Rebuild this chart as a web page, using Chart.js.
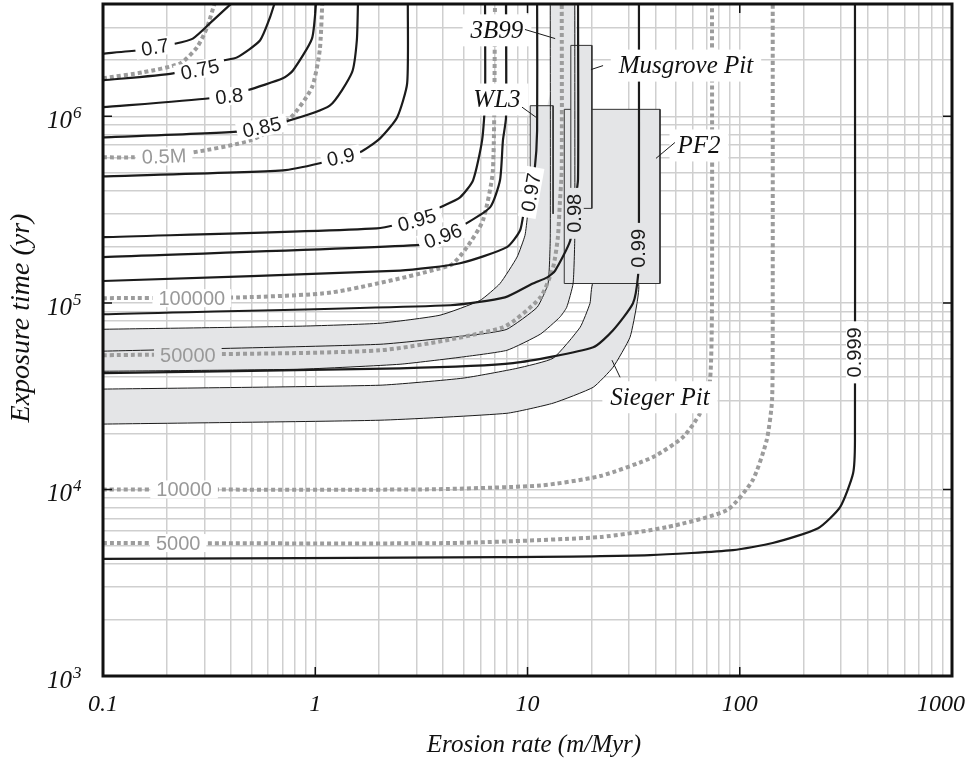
<!DOCTYPE html>
<html>
<head>
<meta charset="utf-8">
<script src="https://cdn.jsdelivr.net/npm/chart.js@4.4.1/dist/chart.umd.min.js"></script>
<style>
  html, body { margin: 0; padding: 0; background: #fff; }
  canvas { display: block; }
</style>
</head>
<body>
<canvas id="chart" width="969" height="770"></canvas>
<script>
// ---- data (erosion rate in m/Myr, exposure time in yr) ----

// black contours
const rate_c070 = [0.1, 0.146, 0.218, 0.265, 0.33, 0.41];
const age_c070 = [2.17e6, 2.26e6, 2.45e6, 2.61e6, 3.27e6, 4.1e6];
const rate_c075 = [0.1, 0.214, 0.367, 0.428, 0.549, 0.612, 0.646];
const age_c075 = [1.56e6, 1.70e6, 1.99e6, 2.07e6, 2.55e6, 3.39e6, 4.1e6];
const rate_c080 = [0.1, 0.319, 0.477, 0.704, 0.785, 0.965, 1.01];
const age_c080 = [1.12e6, 1.25e6, 1.38e6, 1.60e6, 1.76e6, 2.61e6, 4.1e6];
const rate_c085 = [0.1, 0.441, 0.704, 1.17, 1.49, 1.57, 1.59];
const age_c085 = [7.71e5, 8.30e5, 9.28e5, 1.14e6, 1.72e6, 2.55e6, 4.1e6];
const rate_c090 = [0.1, 0.704, 1.05, 1.62, 2.02, 2.43, 2.71, 2.73];
const age_c090 = [4.76e5, 5.13e5, 5.60e5, 6.41e5, 7.62e5, 9.86e5, 1.50e6, 4.1e6];
const rate_c095 = [0.1, 1.95, 3.05, 3.87, 4.81, 5.54, 6.11, 6.31, 6.31];
const age_c095 = [2.25e5, 2.51e5, 2.81e5, 3.25e5, 3.68e5, 4.54e5, 7.43e5, 1.22e6, 4.1e6];
const rate_c096 = [0.1, 3.01, 4.08, 4.81, 6.66, 7.42, 7.66, 7.92, 7.92];
const age_c096 = [1.76e5, 2.04e5, 2.22e5, 2.54e5, 3.25e5, 4.54e5, 7.43e5, 9.86e5, 4.1e6];
const rate_c097 = [0.1, 2.51, 4.81, 8.0, 9.23, 9.73, 10.3, 10.8, 11.1, 11.1];
const age_c097 = [1.31e5, 1.49e5, 1.63e5, 1.99e5, 2.45e5, 3.34e5, 4.01e5, 5.13e5, 8.39e5, 4.1e6];
const rate_c098 = [0.1, 4.32, 7.83, 10.6, 12.4, 13.5, 15.9, 16.7, 17.3, 17.3];
const age_c098 = [8.69e4, 9.71e4, 1.07e5, 1.27e5, 1.37e5, 1.49e5, 2.16e5, 3.39e5, 4.6e5, 4.1e6];
const rate_c099 = [0.1, 2.51, 8.55, 20.4, 25.3, 31.4, 33.2, 33.5, 33.5];
const age_c099 = [4.20e4, 4.46e4, 4.75e4, 5.78e4, 7.13e4, 9.95e4, 1.41e5, 2.16e5, 4.1e6];
const rate_c0999 = [0.1, 7.42, 37.8, 92.9, 143, 234, 297, 342, 349, 349];
const age_c0999 = [4.24e3, 4.34e3, 4.45e3, 4.73e3, 5.16e3, 6.20e3, 8.04e3, 1.22e4, 1.84e4, 4.1e6];

// grey dotted contours (apparent ages)
const rate_t1M = [0.1, 0.154, 0.231, 0.277, 0.309, 0.337];
const age_t1M = [1.60e6, 1.72e6, 1.92e6, 2.34e6, 2.99e6, 4.1e6];
const rate_t500k = [0.1, 0.138, 0.265, 0.493, 0.760, 0.965, 1.05, 1.08];
const age_t500k = [6.03e5, 6.03e5, 6.41e5, 7.43e5, 9.75e5, 1.43e6, 2.26e6, 4.1e6];
const rate_t100k = [0.1, 0.44, 1.21, 4.32, 5.19, 6.17, 6.87, 7.03];
const age_t100k = [1.06e5, 1.07e5, 1.14e5, 1.59e5, 1.99e5, 2.77e5, 5.13e5, 4.1e6];
const rate_t50k = [0.1, 2.02, 7.66, 11.5, 13.2, 13.9, 14.2, 14.5, 14.5];
const age_t50k = [5.24e4, 5.57e4, 7.40e4, 1.07e5, 1.55e5, 2.24e5, 3.41e5, 5.13e5, 4.1e6];
const rate_t10k = [0.1, 3.12, 11.5, 22.0, 39.0, 54.1, 65.0, 72.4, 74.0, 74.0];
const age_t10k = [1.0e4, 1.0e4, 1.05e4, 1.18e4, 1.49e4, 1.91e4, 2.56e4, 3.85e4, 1.03e5, 4.1e6];
const rate_t5k = [0.1, 4.32, 22.0, 45.4, 87.1, 115, 134, 142, 143, 143];
const age_t5k = [5.16e3, 5.16e3, 5.56e3, 6.28e3, 7.75e3, 1.12e4, 1.84e4, 3.01e4, 1.03e5, 4.1e6];

// sample bands
const rate_aTop = [0.1, 0.848, 2.02, 3.87, 5.97, 7.42, 8.93, 9.73, 10.0, 10.3];
const age_aTop = [7.22e4, 7.50e4, 7.78e4, 8.59e4, 1.03e5, 1.27e5, 1.76e5, 2.30e5, 2.95e5, 4.54e5];
const rate_aMid = [0.1, 2.02, 5.97, 8.0, 11.1, 12.5, 12.8, 12.8];
const age_aMid = [5.51e4, 6.00e4, 6.80e4, 7.22e4, 9.47e4, 1.27e5, 2.25e5, 4.1e6];
const rate_aBot = [0.1, 0.848, 2.51, 4.81, 8.0, 11.5, 14.2, 15.3, 16.4, 16.7, 16.7];
const age_aBot = [4.30e4, 4.41e4, 4.69e4, 5.11e4, 5.57e4, 6.80e4, 8.38e4, 9.47e4, 1.27e5, 2.25e5, 4.1e6];
const rate_bTop = [0.1, 2.02, 4.97, 8.93, 13.2, 17.7, 19.7, 20.4];
const age_bTop = [3.45e4, 3.62e4, 3.95e4, 4.46e4, 5.05e4, 7.40e4, 9.95e4, 1.27e5];
const rate_bBot = [33.2, 32.8, 30.4, 25.3, 20.4, 13.2, 8.0, 2.02, 0.1];
const age_bBot = [1.27e5, 9.95e4, 6.54e4, 4.52e4, 3.53e4, 2.90e4, 2.56e4, 2.35e4, 2.24e4];

// sample boxes: PF2, Musgrove Pit, WL3, 3B99
const boxRateMin = [14.9, 16.0, 10.3, 12.8];
const boxRateMax = [42.1, 20.1, 13.2, 16.7];
const boxAgeMin = [1.27e5, 3.21e5, 3.0e5, 2.0e5];
const boxAgeMax = [1.09e6, 2.40e6, 1.14e6, 4.1e6];

// contour labels
const labelText = ['0.7', '0.75', '0.8', '0.85', '0.5M', '0.9', '0.95', '0.96', '100000',
  '0.97', '0.98', '50000', '0.99', '0.999', '10000', '5000'];
const labelRate = [0.176, 0.286, 0.393, 0.561, 0.194, 1.32, 3.01, 4.00, 0.262,
  10.4, 16.7, 0.251, 33.5, 349, 0.241, 0.226];
const labelAge = [2.34e6, 1.78e6, 1.28e6, 8.72e5, 6.09e5, 6.03e5, 2.77e5, 2.28e5, 1.06e5,
  3.91e5, 3.02e5, 5.24e4, 1.96e5, 5.43e4, 1.0e4, 5.16e3];

// callouts
const calloutText = ['3B99', 'WL3', 'Musgrove Pit', 'PF2', 'Sieger Pit'];
const calloutRate = [7.18, 7.18, 55.8, 64.3, 42.1];
const calloutAge = [2.89e6, 1.23e6, 1.87e6, 6.98e5, 3.12e4];
const leaderRate0 = [9.73, 9.42, 19.9, 40.3, 25.0];
const leaderAge0 = [2.92e6, 1.12e6, 1.78e6, 5.95e5, 4.93e4];
const leaderRate1 = [13.5, 11.0, 22.7, 49.5, 27.3];
const leaderAge1 = [2.61e6, 9.86e5, 1.87e6, 7.24e5, 3.99e4];

// axes
const xDecades = [0.1, 1, 10, 100, 1000];
const xTickLabels = ['0.1', '1', '10', '100', '1000'];
const yDecades = [1e3, 1e4, 1e5, 1e6];
const yTickExp = ['3', '4', '5', '6'];
const mantissas = [1, 2, 3, 4, 5, 6, 7, 8, 9];
const X_MIN = 0.1, X_MAX = 1000, Y_MIN = 1e3, Y_MAX = 4e6;

// ---- styles ----
const INK = '#1b1b1b';
const DOT = '#9c9c9c';
const BAND = '#e4e5e7';
const GRID = '#cfcfcf';
const SERIF = '"Liberation Serif", "DejaVu Serif", serif';
const SANS = '"Liberation Sans", Arial, sans-serif';

// label style per label (bg colour depends on whether it sits on a band)
const labelAngle = [-10, -12, -7, -12, -2, -12, -16, -20, 0, -80, -90, 0, -90, -90, 0, 0];
const labelGrey = [false, false, false, false, true, false, false, false, true,
  false, false, true, false, false, true, true];
const labelOnBand = [false, false, false, false, false, false, false, false, false,
  false, true, true, true, false, false, false];

const pts = (xs, ys) => xs.map((x, i) => ({ x, y: ys[i] }));

function line(data, opt) {
  return Object.assign({
    data, showLine: true, pointRadius: 0, pointHoverRadius: 0,
    fill: false, tension: 0, borderColor: INK, borderWidth: 1
  }, opt);
}

function boxPts(i, open) {
  const x0 = boxRateMin[i], x1 = boxRateMax[i], y0 = boxAgeMin[i], y1 = boxAgeMax[i];
  return open
    ? pts([x0, x0, x1, x1], [y0, y1, y1, y0])
    : pts([x0, x0, x1, x1, x0], [y0, y1, y1, y0, y0]);
}

const contour = (xs, ys) => line(pts(xs, ys), { borderWidth: 2.2, tension: 0.2, order: 10 });
const dotted = (xs, ys) => line(pts(xs, ys), {
  borderColor: DOT, borderWidth: 4, borderDash: [4, 3], tension: 0.2, order: 20
});
const edge = (xs, ys) => line(pts(xs, ys), { borderWidth: 1, tension: 0.15, order: 30 });

const datasets = [
  // fills
  line(pts(rate_aTop, age_aTop).concat(pts(rate_aBot, age_aBot).reverse()),
    { fill: 'shape', backgroundColor: BAND, borderWidth: 0, tension: 0.15, order: 60 }),
  line(boxPts(3, false), { fill: 'shape', backgroundColor: BAND, borderWidth: 0, order: 58 }),
  line(pts(rate_bTop, age_bTop).concat(pts(rate_bBot, age_bBot)),
    { fill: 'shape', backgroundColor: BAND, borderWidth: 1, tension: 0.15, order: 55 }),
  line(boxPts(0, false), { fill: 'shape', backgroundColor: BAND, borderColor: '#333', order: 50 }),
  line(boxPts(1, false), { fill: 'shape', backgroundColor: BAND, borderColor: '#333', order: 45 }),
  line(boxPts(2, true), { fill: 'shape', backgroundColor: BAND, borderColor: '#333', order: 40 }),
  // band outlines
  edge(rate_aTop, age_aTop),
  edge(rate_aMid, age_aMid),
  edge(rate_aBot, age_aBot),
  // apparent age contours
  dotted(rate_t1M, age_t1M),
  dotted(rate_t500k, age_t500k),
  dotted(rate_t100k, age_t100k),
  dotted(rate_t50k, age_t50k),
  dotted(rate_t10k, age_t10k),
  dotted(rate_t5k, age_t5k),
  // ratio contours
  contour(rate_c070, age_c070),
  contour(rate_c075, age_c075),
  contour(rate_c080, age_c080),
  contour(rate_c085, age_c085),
  contour(rate_c090, age_c090),
  contour(rate_c095, age_c095),
  contour(rate_c096, age_c096),
  contour(rate_c097, age_c097),
  contour(rate_c098, age_c098),
  contour(rate_c099, age_c099),
  contour(rate_c0999, age_c0999)
];

function gridValues(decades, max) {
  const out = [];
  decades.forEach((d) => mantissas.forEach((m) => { if (d * m <= max * 1.0001) out.push(d * m); }));
  return out;
}

const overlay = {
  id: 'overlay',
  afterDatasetsDraw(chart) {
    const { ctx } = chart;
    const x = chart.scales.x, y = chart.scales.y;

    // contour labels
    ctx.save();
    ctx.font = '20px ' + SANS;
    ctx.textAlign = 'center';
    ctx.textBaseline = 'middle';
    labelText.forEach((t, i) => {
      const px = x.getPixelForValue(labelRate[i]);
      const py = y.getPixelForValue(labelAge[i]);
      const w = ctx.measureText(t).width;
      ctx.save();
      ctx.translate(px, py);
      ctx.rotate(labelAngle[i] * Math.PI / 180);
      ctx.fillStyle = labelOnBand[i] ? BAND : '#fff';
      ctx.fillRect(-w / 2 - 6, -9, w + 12, 18);
      ctx.fillStyle = labelGrey[i] ? '#999' : INK;
      ctx.fillText(t, 0, 1);
      ctx.restore();
    });
    ctx.restore();

    // callouts
    ctx.save();
    ctx.font = 'italic 25px ' + SERIF;
    ctx.textAlign = 'center';
    ctx.textBaseline = 'middle';
    calloutText.forEach((t, i) => {
      const px = x.getPixelForValue(calloutRate[i]);
      const py = y.getPixelForValue(calloutAge[i]);
      const w = ctx.measureText(t).width;
      ctx.fillStyle = '#fff';
      ctx.fillRect(px - w / 2 - 8, py - 16, w + 16, 32);
    });
    ctx.strokeStyle = INK;
    ctx.lineWidth = 1;
    calloutText.forEach((t, i) => {
      ctx.beginPath();
      ctx.moveTo(x.getPixelForValue(leaderRate0[i]), y.getPixelForValue(leaderAge0[i]));
      ctx.lineTo(x.getPixelForValue(leaderRate1[i]), y.getPixelForValue(leaderAge1[i]));
      ctx.stroke();
    });
    ctx.fillStyle = '#111';
    calloutText.forEach((t, i) => {
      ctx.fillText(t, x.getPixelForValue(calloutRate[i]), y.getPixelForValue(calloutAge[i]) + 1);
    });
    ctx.restore();
  },
  afterDraw(chart) {
    const { ctx, chartArea: a } = chart;
    const x = chart.scales.x, y = chart.scales.y;
    ctx.save();
    // frame
    ctx.strokeStyle = '#111';
    ctx.lineWidth = 3;
    ctx.strokeRect(a.left, a.top, a.right - a.left, a.bottom - a.top);
    // major ticks
    ctx.lineWidth = 1.5;
    ctx.beginPath();
    xDecades.slice(1, -1).forEach((v) => {
      const px = x.getPixelForValue(v);
      ctx.moveTo(px, a.bottom); ctx.lineTo(px, a.bottom - 9);
      ctx.moveTo(px, a.top); ctx.lineTo(px, a.top + 9);
    });
    yDecades.slice(1).forEach((v) => {
      const py = y.getPixelForValue(v);
      ctx.moveTo(a.left, py); ctx.lineTo(a.left + 9, py);
      ctx.moveTo(a.right, py); ctx.lineTo(a.right - 9, py);
    });
    ctx.stroke();

    // x tick labels
    ctx.fillStyle = '#111';
    ctx.font = 'italic 24px ' + SERIF;
    ctx.textAlign = 'center';
    ctx.textBaseline = 'alphabetic';
    xDecades.forEach((v, i) => {
      const w = ctx.measureText(xTickLabels[i]).width;
      let px = x.getPixelForValue(v);
      px = Math.min(px, chart.width - w / 2 - 4);
      ctx.fillText(xTickLabels[i], px, a.bottom + 35);
    });

    // y tick labels: 10 with superscript exponent
    yDecades.forEach((v, i) => {
      const py = y.getPixelForValue(v);
      ctx.font = 'italic 25px ' + SERIF;
      ctx.textAlign = 'right';
      ctx.fillText('10', 72, py + 12);
      ctx.font = 'italic 17px ' + SERIF;
      ctx.textAlign = 'left';
      ctx.fillText(yTickExp[i], 73, py + 2);
    });

    // axis titles
    ctx.font = 'italic 25px ' + SERIF;
    ctx.textAlign = 'center';
    ctx.textBaseline = 'middle';
    ctx.fillText('Erosion rate (m/Myr)', 534, 745);
    ctx.font = 'italic 28px ' + SERIF;
    ctx.translate(22, 318);
    ctx.rotate(-Math.PI / 2);
    ctx.fillText('Exposure time (yr)', 0, 0);
    ctx.restore();
  }
};

new Chart(document.getElementById('chart'), {
  type: 'scatter',
  data: { datasets },
  options: {
    responsive: false,
    animation: false,
    layout: { padding: { top: 4, right: 17, left: 0, bottom: 0 } },
    plugins: { legend: { display: false }, tooltip: { enabled: false } },
    scales: {
      x: {
        type: 'logarithmic',
        min: X_MIN,
        max: X_MAX,
        grid: { color: GRID, lineWidth: 1.5, drawTicks: false },
        border: { display: false },
        ticks: { display: false },
        afterBuildTicks: (s) => { s.ticks = gridValues(xDecades.slice(0, -1), X_MAX).concat([X_MAX]).map((v) => ({ value: v })); },
        afterFit: (s) => { s.height = 94; }
      },
      y: {
        type: 'logarithmic',
        min: Y_MIN,
        max: Y_MAX,
        grid: { color: GRID, lineWidth: 1.5, drawTicks: false },
        border: { display: false },
        ticks: { display: false },
        afterBuildTicks: (s) => { s.ticks = gridValues(yDecades, Y_MAX).map((v) => ({ value: v })); },
        afterFit: (s) => { s.width = 103; }
      }
    }
  },
  plugins: [overlay]
});
</script>
</body>
</html>
